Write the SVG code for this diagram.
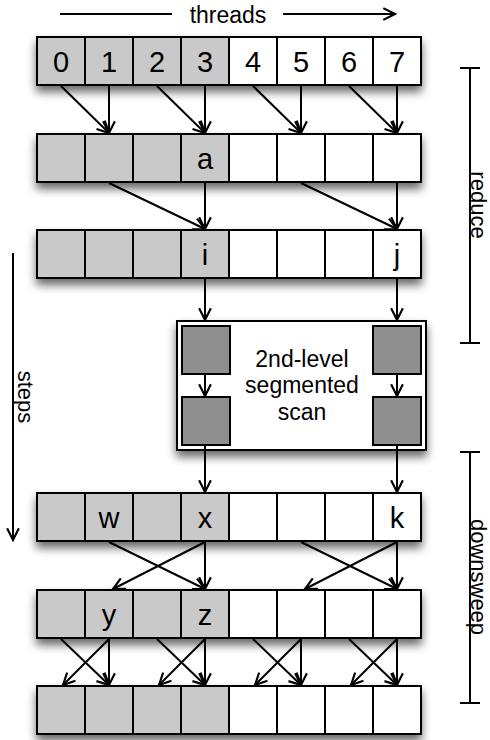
<svg xmlns="http://www.w3.org/2000/svg" width="490" height="740" viewBox="0 0 490 740">
<defs>
<filter id="sh" x="-20%" y="-30%" width="140%" height="190%">
<feGaussianBlur in="SourceAlpha" stdDeviation="5"/>
<feOffset dx="0" dy="6" result="b"/>
<feComponentTransfer><feFuncA type="linear" slope="0.6"/></feComponentTransfer>
<feMerge><feMergeNode/><feMergeNode in="SourceGraphic"/></feMerge>
</filter>
<marker id="ah" markerUnits="userSpaceOnUse" markerWidth="16" markerHeight="16" viewBox="-13 -7 15 14" refX="0" refY="0" orient="auto">
<path d="M-11,-5.5 L0,0 L-11,5.5" fill="none" stroke="#000" stroke-width="2"/>
</marker>
<g id="row">
<rect x="37" y="0" width="48" height="48" class="g"/>
<rect x="85" y="0" width="48" height="48" class="g"/>
<rect x="133" y="0" width="48" height="48" class="g"/>
<rect x="181" y="0" width="48" height="48" class="g"/>
<rect x="229" y="0" width="48" height="48" class="w"/>
<rect x="277" y="0" width="48" height="48" class="w"/>
<rect x="325" y="0" width="48" height="48" class="w"/>
<rect x="373" y="0" width="48" height="48" class="w"/>
</g>
</defs>
<style>
.g{fill:#c9c9c9;stroke:#000;stroke-width:2}
.w{fill:#fff;stroke:#000;stroke-width:2}
.d{fill:#8f8f8f;stroke:#000;stroke-width:2}
.cl{font-family:"Liberation Sans",Arial,sans-serif;font-size:29px;text-anchor:middle;fill:#000}
.lb{font-family:"Liberation Sans",Arial,sans-serif;font-size:23px;text-anchor:middle;fill:#000}
.rl{font-family:"Liberation Sans",Arial,sans-serif;font-size:22px;text-anchor:middle;fill:#000}
.ln{stroke:#000;stroke-width:2;fill:none}
.ar{stroke:#000;stroke-width:2;fill:none;marker-end:url(#ah)}
</style>

<g id="threads-label">
<line class="ln" x1="60" y1="14" x2="172" y2="14"/>
<line class="ar" x1="283" y1="14" x2="395" y2="14"/>
<text class="lb" x="228" y="23">threads</text>
</g>

<g id="row1">
<use href="#row" y="37" filter="url(#sh)"/>
<text class="cl" x="61" y="72">0</text>
<text class="cl" x="109" y="72">1</text>
<text class="cl" x="157" y="72">2</text>
<text class="cl" x="205" y="72">3</text>
<text class="cl" x="253" y="72">4</text>
<text class="cl" x="301" y="72">5</text>
<text class="cl" x="349" y="72">6</text>
<text class="cl" x="397" y="72">7</text>
</g>

<g id="row2">
<use href="#row" y="134" filter="url(#sh)"/>
<text class="cl" x="205" y="169">a</text>
</g>

<g id="row3">
<use href="#row" y="230" filter="url(#sh)"/>
<text class="cl" x="205" y="265">i</text>
<text class="cl" x="397" y="265">j</text>
</g>

<g id="scan-box">
<rect x="177" y="321" width="249" height="129" class="w" filter="url(#sh)"/>
<rect x="182" y="326" width="48" height="48" class="d"/>
<rect x="182" y="397" width="48" height="48" class="d"/>
<rect x="373" y="326" width="48" height="48" class="d"/>
<rect x="373" y="397" width="48" height="48" class="d"/>
<text class="lb" x="302" y="367">2nd-level</text>
<text class="lb" x="302" y="393">segmented</text>
<text class="lb" x="302" y="420">scan</text>
</g>

<g id="row4">
<use href="#row" y="493" filter="url(#sh)"/>
<text class="cl" x="109" y="528">w</text>
<text class="cl" x="205" y="528">x</text>
<text class="cl" x="397" y="528">k</text>
</g>

<g id="row5">
<use href="#row" y="590" filter="url(#sh)"/>
<text class="cl" x="109" y="625">y</text>
<text class="cl" x="205" y="625">z</text>
</g>

<g id="row6">
<use href="#row" y="686" filter="url(#sh)"/>
</g>

<g id="connectors">
<line class="ar" x1="61" y1="86" x2="109" y2="133"/>
<line class="ar" x1="109" y1="86" x2="109" y2="133"/>
<line class="ar" x1="157" y1="86" x2="205" y2="133"/>
<line class="ar" x1="205" y1="86" x2="205" y2="133"/>
<line class="ar" x1="253" y1="86" x2="301" y2="133"/>
<line class="ar" x1="301" y1="86" x2="301" y2="133"/>
<line class="ar" x1="349" y1="86" x2="397" y2="133"/>
<line class="ar" x1="397" y1="86" x2="397" y2="133"/>

<line class="ar" x1="109" y1="183" x2="205" y2="229"/>
<line class="ar" x1="205" y1="183" x2="205" y2="229"/>
<line class="ar" x1="301" y1="183" x2="397" y2="229"/>
<line class="ar" x1="397" y1="183" x2="397" y2="229"/>

<line class="ar" x1="205" y1="279" x2="205" y2="320"/>
<line class="ar" x1="397" y1="279" x2="397" y2="320"/>
<line class="ar" x1="205" y1="375" x2="205" y2="396"/>
<line class="ar" x1="397" y1="375" x2="397" y2="396"/>
<line class="ar" x1="205" y1="446" x2="205" y2="492"/>
<line class="ar" x1="397" y1="446" x2="397" y2="492"/>

<line class="ar" x1="109" y1="542" x2="205" y2="589"/>
<line class="ar" x1="205" y1="542" x2="113" y2="589"/>
<line class="ar" x1="205" y1="542" x2="205" y2="589"/>
<line class="ar" x1="301" y1="542" x2="397" y2="589"/>
<line class="ar" x1="397" y1="542" x2="305" y2="589"/>
<line class="ar" x1="397" y1="542" x2="397" y2="589"/>

<line class="ar" x1="61" y1="639" x2="109" y2="685"/>
<line class="ar" x1="109" y1="639" x2="63" y2="685"/>
<line class="ar" x1="109" y1="639" x2="109" y2="685"/>
<line class="ar" x1="157" y1="639" x2="205" y2="685"/>
<line class="ar" x1="205" y1="639" x2="159" y2="685"/>
<line class="ar" x1="205" y1="639" x2="205" y2="685"/>
<line class="ar" x1="253" y1="639" x2="301" y2="685"/>
<line class="ar" x1="301" y1="639" x2="255" y2="685"/>
<line class="ar" x1="301" y1="639" x2="301" y2="685"/>
<line class="ar" x1="349" y1="639" x2="397" y2="685"/>
<line class="ar" x1="397" y1="639" x2="351" y2="685"/>
<line class="ar" x1="397" y1="639" x2="397" y2="685"/>
</g>

<g id="steps-label">
<line class="ar" x1="13" y1="253" x2="13" y2="540"/>
<text class="rl" transform="translate(18,397) rotate(90)">steps</text>
</g>

<g id="reduce-label">
<line class="ln" x1="470" y1="68" x2="470" y2="343"/>
<line class="ln" x1="460" y1="68" x2="480" y2="68"/>
<line class="ln" x1="460" y1="343" x2="480" y2="343"/>
<text class="rl" transform="translate(471,205) rotate(90)">reduce</text>
</g>

<g id="downsweep-label">
<line class="ln" x1="470" y1="452" x2="470" y2="703"/>
<line class="ln" x1="460" y1="452" x2="480" y2="452"/>
<line class="ln" x1="460" y1="703" x2="480" y2="703"/>
<text class="rl" transform="translate(471,577) rotate(90)">downsweep</text>
</g>
</svg>
